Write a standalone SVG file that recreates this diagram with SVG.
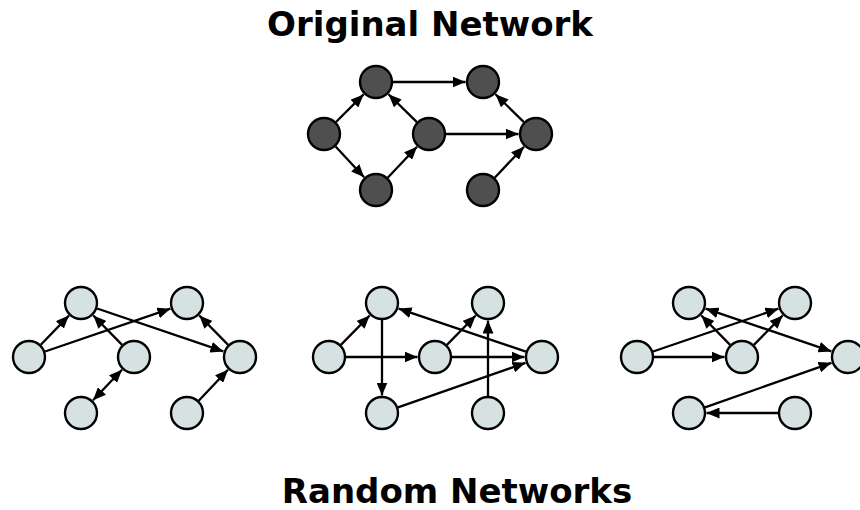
<svg xmlns="http://www.w3.org/2000/svg" width="860" height="510" viewBox="0 0 860 510">
<defs>
<marker id="ah" viewBox="0 0 13 11" refX="13" refY="5.5" markerWidth="13" markerHeight="11" markerUnits="userSpaceOnUse" orient="auto-start-reverse">
<path d="M0,0 L13,5.5 L0,11 z" fill="#000"/>
</marker>
<style>
.e{stroke:#000;stroke-width:2.3;fill:none;marker-end:url(#ah)}
.b{marker-start:url(#ah)}
.dk{fill:#4f4f4f;stroke:#000;stroke-width:2.4}
.lt{fill:#d6e2e1;stroke:#000;stroke-width:2.4}
.t{font-family:"DejaVu Sans",sans-serif;font-weight:bold;font-size:34px;text-anchor:middle;fill:#000}
</style>
</defs>
<rect width="860" height="510" fill="#fff"/>
<text class="t" x="430" y="36">Original Network</text>
<text class="t" x="457" y="503">Random Networks</text>
<g id="connectors">
<line class="e" x1="336" y1="122" x2="363.6" y2="94.4"/>
<line class="e" x1="335.6" y1="146.5" x2="364.1" y2="177.2"/>
<line class="e" x1="387.7" y1="177.7" x2="417" y2="146.7"/>
<line class="e" x1="416.9" y1="122.1" x2="388.5" y2="94.3"/>
<line class="e" x1="393" y1="82" x2="465.5" y2="82"/>
<line class="e" x1="446" y1="134" x2="518.5" y2="134"/>
<line class="e" x1="523.9" y1="122.1" x2="495.5" y2="94.3"/>
<line class="e" x1="494.7" y1="177.7" x2="524" y2="146.7"/>

<line class="e" x1="40.8" y1="344.8" x2="68.9" y2="315.6"/>
<line class="e" x1="45.1" y1="351.5" x2="170.4" y2="308.7"/>
<line class="e" x1="97.1" y1="308.5" x2="223.4" y2="351.4"/>
<line class="e" x1="122.1" y1="344.9" x2="93.3" y2="315.5"/>
<line class="e b" x1="122" y1="369.7" x2="93" y2="400.3"/>
<line class="e" x1="228.1" y1="344.9" x2="199.3" y2="315.5"/>
<line class="e" x1="198.7" y1="400.7" x2="228" y2="369.7"/>

<line class="e" x1="340.9" y1="344.9" x2="369.7" y2="315.5"/>
<line class="e" x1="346" y1="357" x2="417.5" y2="357"/>
<line class="e" x1="382" y1="320" x2="382" y2="395.5"/>
<line class="e" x1="446.9" y1="344.9" x2="475.7" y2="315.5"/>
<line class="e" x1="452" y1="357" x2="524.5" y2="357"/>
<line class="e" x1="525.9" y1="351.6" x2="398.6" y2="308.6"/>
<line class="e" x1="398" y1="407.4" x2="525.5" y2="362.8"/>
<line class="e" x1="488" y1="396" x2="488" y2="320.5"/>

<line class="e" x1="653.1" y1="351.5" x2="778.4" y2="308.7"/>
<line class="e" x1="654" y1="357" x2="724.5" y2="357"/>
<line class="e" x1="730.1" y1="344.9" x2="701.3" y2="315.5"/>
<line class="e" x1="753.9" y1="344.9" x2="782.7" y2="315.5"/>
<line class="e b" x1="705.6" y1="308.6" x2="831.4" y2="351.4"/>
<line class="e" x1="705" y1="407.4" x2="831.5" y2="362.8"/>
<line class="e" x1="778" y1="413" x2="706.5" y2="413"/>
</g>
<g id="original">
<g id="o1"><circle class="dk" cx="376" cy="82" r="16"/></g>
<g id="o2"><circle class="dk" cx="483" cy="82" r="16"/></g>
<g id="o3"><circle class="dk" cx="324" cy="134" r="16"/></g>
<g id="o4"><circle class="dk" cx="429" cy="134" r="16"/></g>
<g id="o5"><circle class="dk" cx="536" cy="134" r="16"/></g>
<g id="o6"><circle class="dk" cx="376" cy="190" r="16"/></g>
<g id="o7"><circle class="dk" cx="483" cy="190" r="16"/></g>
</g>
<g id="random1">
<g id="a1"><circle class="lt" cx="81" cy="303" r="16"/></g>
<g id="a2"><circle class="lt" cx="187" cy="303" r="16"/></g>
<g id="a3"><circle class="lt" cx="29" cy="357" r="16"/></g>
<g id="a4"><circle class="lt" cx="134" cy="357" r="16"/></g>
<g id="a5"><circle class="lt" cx="240" cy="357" r="16"/></g>
<g id="a6"><circle class="lt" cx="81" cy="413" r="16"/></g>
<g id="a7"><circle class="lt" cx="187" cy="413" r="16"/></g>
</g>
<g id="random2">
<g id="b1"><circle class="lt" cx="382" cy="303" r="16"/></g>
<g id="b2"><circle class="lt" cx="488" cy="303" r="16"/></g>
<g id="b3"><circle class="lt" cx="329" cy="357" r="16"/></g>
<g id="b4"><circle class="lt" cx="435" cy="357" r="16"/></g>
<g id="b5"><circle class="lt" cx="542" cy="357" r="16"/></g>
<g id="b6"><circle class="lt" cx="382" cy="413" r="16"/></g>
<g id="b7"><circle class="lt" cx="488" cy="413" r="16"/></g>
</g>
<g id="random3">
<g id="c1"><circle class="lt" cx="689" cy="303" r="16"/></g>
<g id="c2"><circle class="lt" cx="795" cy="303" r="16"/></g>
<g id="c3"><circle class="lt" cx="637" cy="357" r="16"/></g>
<g id="c4"><circle class="lt" cx="742" cy="357" r="16"/></g>
<g id="c5"><circle class="lt" cx="848" cy="357" r="16"/></g>
<g id="c6"><circle class="lt" cx="689" cy="413" r="16"/></g>
<g id="c7"><circle class="lt" cx="795" cy="413" r="16"/></g>
</g>
</svg>
